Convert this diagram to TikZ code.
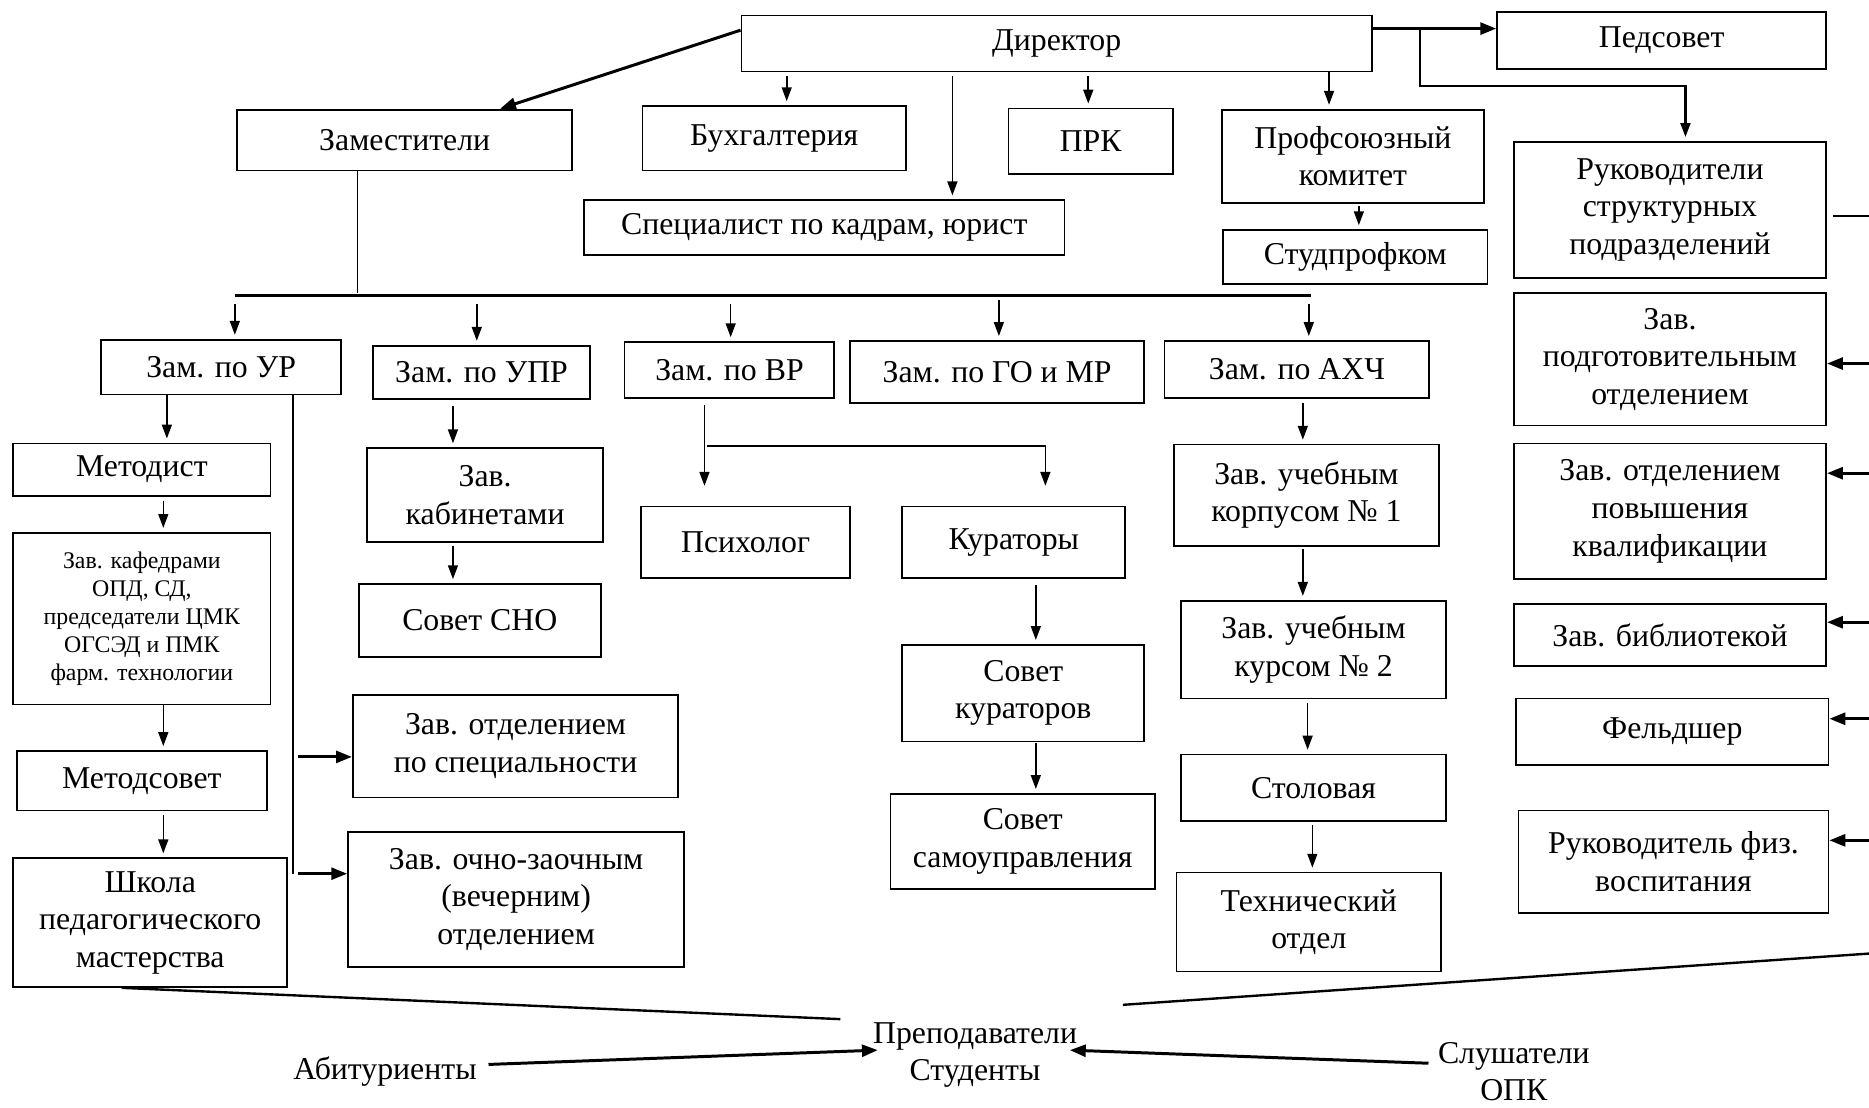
\documentclass[tikz,border=0pt]{standalone}
\usepackage{fontspec}
\setmainfont{Liberation Serif}
\usetikzlibrary{calc,arrows.meta}
% \bx[style]{name}{x1}{y1}{x2}{y2}{text}
\newcommand\bx[7][box]{\node[#1, minimum width={0.6*(#5-#3)}, minimum height={0.6*(#6-#4)}] (#2) at ({(#3+#5)/2},{(#4+#6)/2}) {#7};}
\begin{document}
\begin{tikzpicture}[x=0.6pt,y=-0.6pt,
  box/.style={draw, line width=0.9pt, inner sep=0pt, align=center, font=\fontsize{16}{18.9}\selectfont},
  sbox/.style={box, font=\fontsize{12}{14.1}\selectfont},
  arr/.style={-{Triangle[length=7pt,width=5pt]}, line width=0.8pt, shorten >=2pt},
  tarr/.style={-{Triangle[length=8pt,width=6pt]}, line width=1.5pt},
  ln/.style={line width=0.8pt},
  tln/.style={line width=1.2pt},
  lbl/.style={align=center, font=\fontsize{16}{18.9}\selectfont, inner sep=1pt}
]
\useasboundingbox (0,0) rectangle (1568,929);

% ---- top row
\bx{dir}{622}{13}{1151}{60}{Директор}
\bx{ped}{1256}{10}{1532}{58}{Педсовет}
\bx{zam}{199}{92}{480}{143}{Заместители}
\bx{buh}{539}{89}{760}{143}{Бухгалтерия}
\bx{prk}{846}{91}{984}{146}{ПРК}
\bx{prof}{1025}{92}{1245}{170}{Профсоюзный\\комитет}
\bx{spec}{490}{168}{893}{214}{Специалист по кадрам, юрист}
\bx{stud}{1026}{193}{1248}{238}{Студпрофком}

% ---- right column
\bx{ruk}{1270}{119}{1532}{233}{Руководители\\структурных\\подразделений}
\bx{zpod}{1270}{246}{1532}{357}{Зав.\\подготовительным\\отделением}
\bx{zpov}{1270}{372}{1532}{486}{Зав. отделением\\повышения\\квалификации}
\bx{zbib}{1270}{507}{1532}{559}{Зав. библиотекой}
\bx{feld}{1272}{586}{1534}{642}{Фельдшер}
\bx{fiz}{1274}{680}{1534}{766}{Руководитель физ.\\воспитания}

% ---- deputies
\bx{zur}{85}{285}{286}{331}{Зам. по УР}
\bx{zupr}{313}{290}{495}{335}{Зам. по УПР}
\bx{zvr}{524}{287}{700}{334}{Зам. по ВР}
\bx{zgo}{713}{286}{960}{338}{Зам. по ГО и МР}
\bx{zahch}{977}{286}{1199}{334}{Зам. по АХЧ}

% ---- УР branch
\bx{met}{11}{372}{227}{416}{Методист}
\bx[sbox]{kaf}{11}{447}{227}{591}{Зав. кафедрами\\ОПД, СД,\\председатели ЦМК\\ОГСЭД и ПМК\\фарм. технологии}
\bx{mets}{14}{630}{224}{680}{Методсовет}
\bx{shk}{11}{720}{241}{828}{Школа\\педагогического\\мастерства}
\bx{zos}{296}{583}{569}{669}{Зав. отделением\\по специальности}
\bx{zoz}{292}{698}{574}{811}{Зав. очно-заочным\\(вечерним)\\отделением}

% ---- УПР branch
\bx{zkab}{308}{376}{506}{455}{Зав.\\кабинетами}
\bx{sno}{301}{490}{504}{551}{Совет СНО}

% ---- ВР branch
\bx{psy}{538}{425}{713}{485}{Психолог}
\bx{kur}{757}{425}{944}{485}{Кураторы}
\bx{skur}{757}{541}{960}{622}{Совет\\кураторов}
\bx{ssam}{747}{666}{969}{746}{Совет\\самоуправления}

% ---- АХЧ branch
\bx{k1}{985}{373}{1207}{458}{Зав. учебным\\корпусом № 1}
\bx{k2}{991}{504}{1213}{586}{Зав. учебным\\курсом № 2}
\bx{stol}{991}{633}{1213}{689}{Столовая}
\bx{tech}{987}{732}{1209}{815}{Технический\\отдел}

% ---- bottom labels
\node[lbl] (prep) at (818,885) {Преподаватели\\Студенты};
\node[lbl] (abit) at (323,899) {Абитуриенты};
\node[lbl] (slush) at (1270,899) {Слушатели\\ОПК};

% ================= connectors
% director
\draw[tarr] ($(dir.north west)!0.27!(dir.south west)$) -- ($(zam.north)+(80,0)$);
\coordinate (c1) at (660,64);  \draw[arr] (c1) -- (c1 |- buh.north);
\coordinate (c2) at (799,64);  \draw[arr] (c2) -- (c2 |- spec.north);
\coordinate (c3) at (913,64);  \draw[arr] (c3) -- (c3 |- prk.north);
\coordinate (c4) at (1115,60); \draw[arr] (c4) -- (c4 |- prof.north);
\coordinate (c5) at (1140,173); \draw[arr] (c5) -- (c5 |- stud.north);
\coordinate (dp) at (1151,24); \draw[tarr] (dp) -- (dp -| ped.west);
\coordinate (br) at (1191,24); \coordinate (br2) at (1414,72);
\draw[arr, line width=1.1pt] (br) |- (br2) -- (br2 |- ruk.north);

% right edge
\coordinate (ee) at (1568,181);
\draw[ln] ([xshift=3pt]ruk.east |- ee) -- (ee);
\coordinate (e1) at (1568,305); \draw[tarr] (e1) -- (e1 -| zpod.east);
\coordinate (e2) at (1568,397); \draw[tarr] (e2) -- (e2 -| zpov.east);
\coordinate (e3) at (1568,522); \draw[tarr] (e3) -- (e3 -| zbib.east);
\coordinate (e4) at (1568,603); \draw[tarr] (e4) -- (e4 -| feld.east);
\coordinate (e5) at (1568,705); \draw[tarr] (e5) -- (e5 -| fiz.east);

% deputies bus
\coordinate (bus) at (300,246);
\draw[ln] (bus |- zam.south) -- (bus);
\coordinate (busL) at (197,248); \coordinate (busR) at (1100,248);
\draw[tln] (busL) -- (busR);
\coordinate (d1) at (197,255);  \draw[arr] (d1) -- (d1 |- zur.north);
\coordinate (d2) at (400,255);  \draw[arr] (d2) -- (d2 |- zupr.north);
\coordinate (d3) at (613,255);  \draw[arr] (d3) -- (d3 |- zvr.north);
\coordinate (d4) at (838,252);  \draw[arr] (d4) -- (d4 |- zgo.north);
\coordinate (d5) at (1098,255); \draw[arr] (d5) -- (d5 |- zahch.north);

% УР
\coordinate (u1) at (140,331); \draw[arr] (u1) -- (u1 |- met.north);
\coordinate (u2) at (137,420); \draw[arr] (u2) -- (u2 |- kaf.north);
\coordinate (u3) at (137,591); \draw[arr] (u3) -- (u3 |- mets.north);
\coordinate (u4) at (137,684); \draw[arr] (u4) -- (u4 |- shk.north);
\coordinate (uv) at (246,733);
\draw[ln] (uv |- zur.south) -- (uv);
\coordinate (uo1) at (250,635); \draw[tarr] (uo1) -- (uo1 -| zos.west);
\coordinate (uo2) at (250,733); \draw[tarr] (uo2) -- (uo2 -| zoz.west);

% УПР
\coordinate (p1) at (380,341); \draw[arr] (p1) -- (p1 |- zkab.north);
\coordinate (p2) at (380,458); \draw[arr] (p2) -- (p2 |- sno.north);

% ВР
\coordinate (v1) at (591,340); \draw[arr, shorten >=10pt] (v1) -- (v1 |- psy.north);
\coordinate (v2) at (593,374); \coordinate (v3) at (877,374);
\draw[arr, shorten >=10pt] (v2) -- (v3) -- (v3 |- kur.north);
\coordinate (v4) at (869,491); \draw[arr] (v4) -- (v4 |- skur.north);
\coordinate (v5) at (869,623); \draw[arr] (v5) -- (v5 |- ssam.north);

% АХЧ
\coordinate (a1) at (1093,338); \draw[arr] (a1) -- (a1 |- k1.north);
\coordinate (a2) at (1093,461); \draw[arr] (a2) -- (a2 |- k2.north);
\coordinate (a3) at (1097,590); \draw[arr] (a3) -- (a3 |- stol.north);
\coordinate (a4) at (1101,692); \draw[arr] (a4) -- (a4 |- tech.north);

% bottom
\coordinate (pl) at (705,855);
\draw[tln] ($(shk.south)+(-24,0)$) -- (pl);
\coordinate (pr) at (942,843); \coordinate (re) at (1568,800);
\draw[tln] (pr) -- (re);
\draw[tarr] ($(abit.east)+(8,-6)$) -- ($(prep.west)+(6,-4)$);
\draw[tarr] ($(slush.west)+(-6,-7)$) -- ($(prep.east)+(-8,-4)$);
\end{tikzpicture}
\end{document}
